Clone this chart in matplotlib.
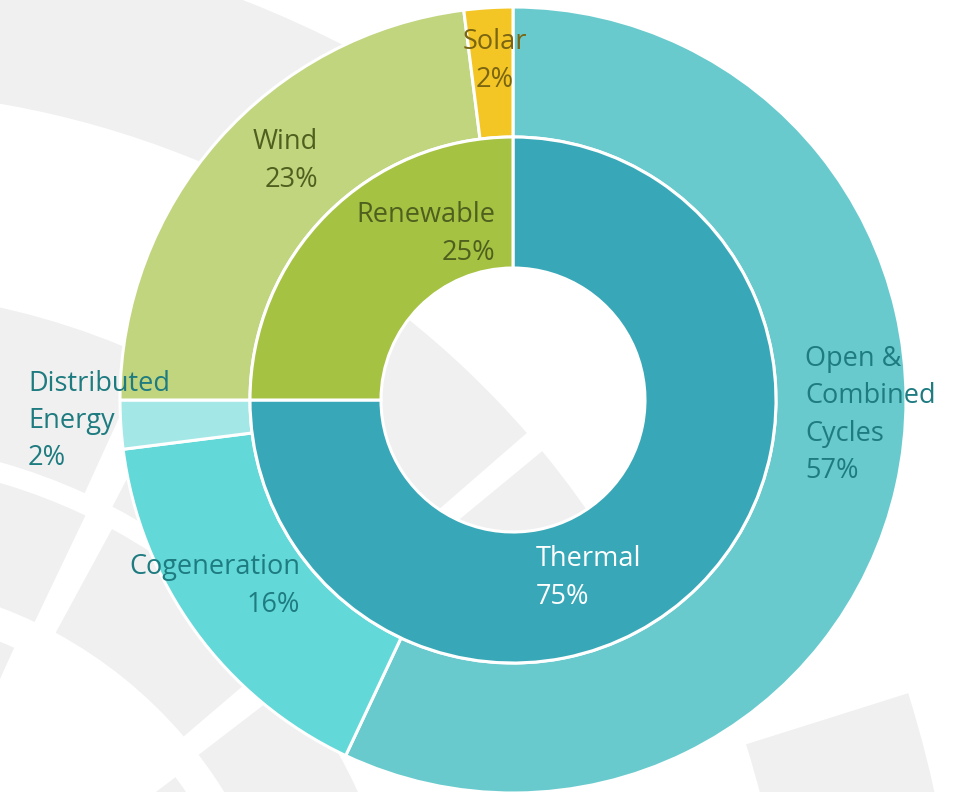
import matplotlib.pyplot as plt
from matplotlib.patches import Wedge

W, H, DPI = 968, 792, 100

# data
inner_labels = ["Thermal", "Renewable"]
inner_values = [75, 25]
outer_labels = ["Open &\nCombined\nCycles", "Cogeneration", "Distributed\nEnergy", "Wind", "Solar"]
outer_values = [57, 16, 2, 23, 2]

inner_colors = ["#38A8B8", "#A5C243"]
outer_colors = ["#69CACE", "#62D9D8", "#A3E8E7", "#C1D57F", "#F4C625"]

plt.rcParams["font.family"] = ["Open Sans", "DejaVu Sans"]

fig = plt.figure(figsize=(W / DPI, H / DPI), dpi=DPI)
ax = fig.add_axes([0, 0, 1, 1])

CX, CY, R = 513, 400, 393  # donut centre and outer radius, in pixels


def px(x, y):
    return (x - CX) / R, (CY - y) / R


# light grey decorative tiles behind the chart
bg = "#F0F0F0"
c = px(-160, 1030)
tiles = [  # r_in, r_out (px), theta1, theta2
    (940, 1106, 54, 100), (950, 1120, -10, 17.5),
    (590, 910, 41, 62.5), (640, 910, 25, 39.5),
    (590, 740, 65.5, 100),
    (452, 570, 64.5, 100), (452, 570, 40.5, 61.5), (452, 570, 10, 37.5),
    (300, 420, 65.5, 100), (300, 420, 10, 37),
]
for r0, r1, t1, t2 in tiles:
    ax.add_patch(Wedge(c, r1 / R, t1, t2, width=(r1 - r0) / R,
                       facecolor=bg, edgecolor="none", zorder=0))

wp = dict(edgecolor="white", linewidth=2.2)
ax.pie(outer_values, radius=1, colors=outer_colors, startangle=90,
       counterclock=False, wedgeprops=dict(width=130 / R, **wp))
ax.pie(inner_values, radius=263 / R, colors=inner_colors, startangle=90,
       counterclock=False, wedgeprops=dict(width=131 / R, **wp))

teal = "#1E7B80"
olive = "#4F5F1E"
brown = "#7A6512"
texts = [
    (f"{outer_labels[0]}\n{outer_values[0]}%", 805, 415, "left", teal),
    (f"{outer_labels[1]}\n{outer_values[1]}%", 300, 586, "right", teal),
    (f"{outer_labels[2]}\n{outer_values[2]}%", 28, 421, "left", teal),
    (f"{outer_labels[3]}\n{outer_values[3]}%", 318, 161, "right", olive),
    (f"{outer_labels[4]}\n{outer_values[4]}%", 495, 61, "center", brown),
    (f"{inner_labels[0]}\n{inner_values[0]}%", 536, 578, "left", "white"),
    (f"{inner_labels[1]}\n{inner_values[1]}%", 495, 234, "right", olive),
]
for s, x, y, ha, col in texts:
    ax.text(*px(x, y), s, ha=ha, va="center", multialignment=ha,
            color=col, fontsize=19.5, linespacing=1.45, zorder=5)

ax.set_xlim(px(0, 0)[0], px(W, 0)[0])
ax.set_ylim(px(0, H)[1], px(0, 0)[1])
ax.set_aspect("equal")
ax.axis("off")

fig.savefig("out.png", dpi=DPI)
